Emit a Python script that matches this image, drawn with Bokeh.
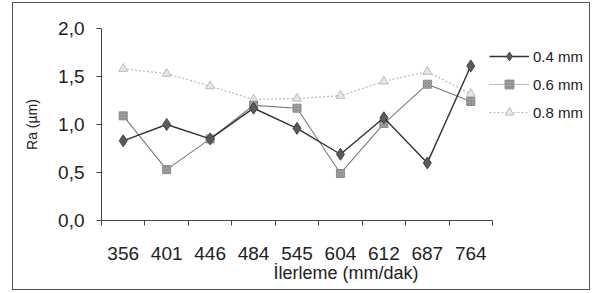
from bokeh.plotting import figure
from bokeh.models import (Range1d, FixedTicker, CustomJSTickFormatter, Legend, LegendItem)
from bokeh.embed import file_html
from bokeh.resources import INLINE

categories = ["356", "401", "446", "484", "545", "604", "612", "687", "764"]
ra_04 = [0.83, 1.00, 0.85, 1.17, 0.96, 0.69, 1.07, 0.60, 1.61]
ra_06 = [1.09, 0.53, 0.85, 1.20, 1.17, 0.49, 1.01, 1.42, 1.24]
ra_08 = [1.58, 1.53, 1.40, 1.26, 1.27, 1.30, 1.45, 1.55, 1.32]
y_ticks = [0.0, 0.5, 1.0, 1.5, 2.0]
series_names = ["0.4 mm", "0.6 mm", "0.8 mm"]

xs = list(range(1, len(categories) + 1))
n = len(categories)
FONT = "Liberation Sans"

# frame spans whole right side (legend lives inside it); axis drawn only over categories
x_end = 0.5 + n * 489 / 391

p = figure(width=578, height=288, output_backend="svg", toolbar_location=None,
           x_range=Range1d(0.5, x_end), y_range=Range1d(0, 2.0),
           min_border_left=88, min_border_right=1, min_border_top=25, min_border_bottom=71)
p.styles = {"border": "1px solid #555", "box-sizing": "border-box", "margin": "2px 0 0 12px"}
p.outline_line_color = None
p.grid.visible = False
p.background_fill_color = "white"

# x axis
p.xaxis.bounds = (0.5, n + 0.5)
p.xaxis.ticker = FixedTicker(ticks=xs, minor_ticks=[x - 0.5 for x in xs] + [n + 0.5])
p.xaxis.major_label_overrides = {x: c for x, c in zip(xs, categories)}
p.xaxis.major_tick_line_color = None
p.xaxis.minor_tick_line_color = "#444"
p.xaxis.minor_tick_out = 5
p.xaxis.minor_tick_in = 0
p.xaxis.major_label_standoff = 20
p.xaxis.major_label_text_font = FONT
p.xaxis.major_label_text_font_size = "19px"
p.xaxis.major_label_text_color = "#222"
p.xaxis.axis_label = "İlerleme (mm/dak)"
p.xaxis.axis_label_text_font = FONT
p.xaxis.axis_label_text_font_size = "18px"
p.xaxis.axis_label_text_font_style = "normal"
p.xaxis.axis_label_text_color = "#222"
p.xaxis.axis_label_standoff = 0
p.xaxis.axis_line_color = "#444"

# y axis
p.yaxis.ticker = FixedTicker(ticks=y_ticks)
p.yaxis.formatter = CustomJSTickFormatter(code="return tick.toFixed(1).replace('.', ',');")
p.yaxis.major_tick_out = 5
p.yaxis.major_tick_in = 0
p.yaxis.minor_tick_line_color = None
p.yaxis.major_tick_line_color = "#444"
p.yaxis.axis_line_color = "#444"
p.yaxis.major_label_text_font = FONT
p.yaxis.major_label_text_font_size = "19px"
p.yaxis.major_label_text_color = "#222"
p.yaxis.major_label_standoff = 12
p.yaxis.axis_label = "Ra (µm)"
p.yaxis.axis_label_text_font = FONT
p.yaxis.axis_label_text_font_size = "14px"
p.yaxis.axis_label_text_font_style = "normal"
p.yaxis.axis_label_text_color = "#222"
p.yaxis.axis_label_standoff = 15

# series
l8 = p.line(xs, ra_08, line_color="#b8b8b8", line_width=1.2, line_dash="2 2")
m8 = p.scatter(xs, ra_08, marker="triangle", size=9, fill_color="#e6e6e6", line_color="#bdbdbd")
l6 = p.line(xs, ra_06, line_color="#7a7a7a", line_width=1.1)
m6 = p.scatter(xs, ra_06, marker="square", size=8, fill_color="#a8a8a8", line_color="#8a8a8a",
               hatch_pattern="x", hatch_color="#777", hatch_scale=3, hatch_weight=0.6)
l4 = p.line(xs, ra_04, line_color="#333333", line_width=1.4)
m4 = p.scatter(xs, ra_04, marker="diamond", size=12, fill_color="#5a5a5a", line_color="#444")

# legend glyph (dotted line for 0.6 in legend)
l6_leg = p.line([None], [None], line_color="#7a7a7a", line_width=1.1, line_dash="1 1")

legend = Legend(items=[
    LegendItem(label=series_names[0], renderers=[l4, m4]),
    LegendItem(label=series_names[1], renderers=[l6_leg, m6]),
    LegendItem(label=series_names[2], renderers=[l8, m8]),
], location=(388, 97), border_line_color=None, background_fill_alpha=0,
    glyph_width=40, glyph_height=22, label_standoff=4, spacing=6, padding=0, margin=0,
    label_text_font=FONT, label_text_font_size="15px", label_text_color="#222")
p.add_layout(legend, "center")

open("out.html", "w").write(file_html(p, INLINE))
